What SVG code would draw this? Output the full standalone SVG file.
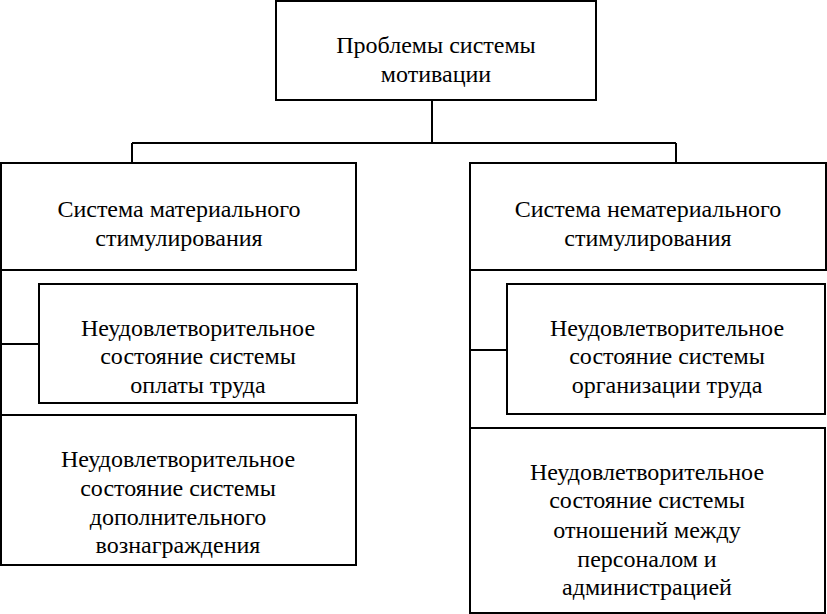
<svg xmlns="http://www.w3.org/2000/svg" width="827" height="614" viewBox="0 0 827 614">
<style>
.box{fill:#fff;stroke:#000;stroke-width:2}
.ln{fill:none;stroke:#000;stroke-width:2}
.t{font-size:24px;fill:#000;text-anchor:middle}
</style>
<rect width="827" height="614" fill="#fff"/>
<g id="connectors">
<path class="ln" d="M432 100V143M132 143H676M132 143V163M676 143V163"/>
<path class="ln" d="M1 270V415M1 344H39"/>
<path class="ln" d="M470 270V428M470 350H507"/>
</g>
<g font-family="Liberation Serif, Times New Roman, serif" class="t">
<g id="n0"><rect class="box" x="276" y="1" width="320" height="99"/>
<text x="436" y="53">Проблемы системы</text><text x="436" y="82">мотивации</text></g>
<g id="n1"><rect class="box" x="1" y="163" width="355" height="107"/>
<text x="179" y="217">Система материального</text><text x="179" y="246">стимулирования</text></g>
<g id="n2"><rect class="box" x="470" y="163" width="356" height="107"/>
<text x="648" y="217">Система нематериального</text><text x="648" y="246">стимулирования</text></g>
<g id="n3"><rect class="box" x="39" y="284" width="318" height="119"/>
<text x="198" y="336">Неудовлетворительное</text><text x="198" y="364">состояние системы</text><text x="198" y="393">оплаты труда</text></g>
<g id="n4"><rect class="box" x="1" y="415" width="355" height="150"/>
<text x="178" y="467">Неудовлетворительное</text><text x="178" y="496">состояние системы</text><text x="178" y="525">дополнительного</text><text x="178" y="553">вознаграждения</text></g>
<g id="n5"><rect class="box" x="507" y="284" width="318" height="130"/>
<text x="667" y="336">Неудовлетворительное</text><text x="667" y="364">состояние системы</text><text x="667" y="393">организации труда</text></g>
<g id="n6"><rect class="box" x="470" y="428" width="355" height="185"/>
<text x="647" y="480">Неудовлетворительное</text><text x="647" y="508">состояние системы</text><text x="647" y="538">отношений между</text><text x="647" y="567">персоналом и</text><text x="647" y="595">администрацией</text></g>
</g>
</svg>
